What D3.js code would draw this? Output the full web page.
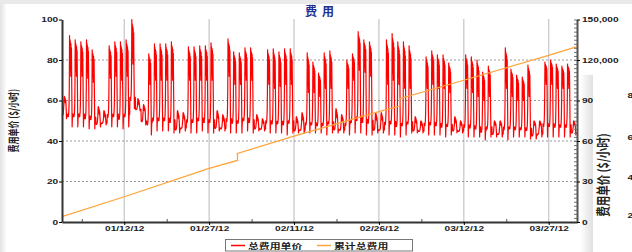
<!DOCTYPE html>
<html>
<head>
<meta charset="utf-8">
<script src="https://cdn.jsdelivr.net/npm/d3@7"></script>
<style>
  html, body { margin: 0; padding: 0; background: #e9e9e9; overflow: hidden; }
  svg { display: block; }
</style>
</head>
<body>
<div id="chart"></div>
<script>
// ---- data ----
const seriesNames = ["总费用单价", "累计总费用"];
const chartTitle = "费用";
const yLabel = "费用单价 ($/小时)";

// one entry per day, Jan 1 .. Mar 31 2012
const dayHigh = [62,
  92, 90, 89, 90, 85, 57, 55,
  87, 89, 89, 90, 100, 61, 58,
  83, 88, 88, 88, 89, 55, 54,
  86.5, 86.5, 87, 87, 88.5, 55, 53,
  90.5, 84, 83.5, 86, 86, 53, 51,
  85, 85.5, 84, 85.5, 85.5, 52, 54,
  83.5, 79, 73.5, 83.5, 84.5, 56, 53,
  80, 83, 94, 90, 89, 54, 54,
  90, 93, 89, 89, 87, 52, 50,
  81.5, 84.5, 82.5, 82.5, 78.5, 52, 50,
  82.5, 81.5, 80, 74, 77, 50, 50,
  86, 75.5, 72.5, 71.5, 77.5, 50, 50,
  79, 80, 78, 77, 78, 50];
const dayMid = [58,
  72, 72, 72, 71, 69, 52, 51,
  71, 72, 70, 72, 78, 57, 54,
  68, 70, 70, 70, 70, 50, 50,
  70, 70, 70, 70, 70, 50, 49,
  72, 68, 68, 70, 70, 49, 48,
  68, 66, 67, 68, 68, 48, 49,
  64, 64, 62, 66, 66, 50, 49,
  66, 70, 75, 74, 72, 49, 49,
  68, 70, 68, 66, 66, 48, 47,
  66, 68, 66, 66, 64, 48, 47,
  66, 64, 62, 60, 62, 47, 47,
  66, 62, 60, 60, 62, 47, 47,
  68, 68, 66, 66, 66, 47];
const dayLow = [51,
  47, 47, 47, 46, 46, 47, 48,
  47, 47, 46, 47, 56, 55, 48,
  43, 45, 45, 45, 44, 44, 45,
  44, 44, 45, 44, 44, 45, 45,
  44, 44, 44, 45, 44, 45, 45,
  44, 44, 44, 43, 44, 44, 44,
  44, 44, 44, 43, 44, 44, 44,
  43, 44, 44, 43, 43, 44, 44,
  43, 43, 42, 43, 44, 44, 44,
  43, 43, 43, 42, 43, 44, 44,
  42, 42, 42, 40.5, 42, 42, 42,
  40.5, 42, 42, 42, 41, 41, 42,
  42, 42, 42, 42, 42, 43];

// hour-by-hour shape of a day: 0 = low, 1 = mid, 2 = high
const workdayShape = [0.25, 0.2, 0.2, 0.2, 0.25, 0.3, 0.45, 0.8, 2.0, 1.6, 1.9, 1.15,
                      1.85, 1.0, 1.8, 1.1, 1.7, 1.0, 0.5, 0, 0.15, 0.25, 0.25, 0.25];
const weekendShape = [0.3, 0.25, 0.25, 0.25, 0.3, 0.35, 0.5, 0.8, 1.0, 1.8, 2.0, 1.5,
                      1.9, 1.3, 1.7, 1.2, 1.5, 1.0, 0.6, 0, 0.2, 0.3, 0.3, 0.3];

// cumulative total cost (right axis)
const cumTimes = ["2012-01-01 00", "2012-01-12 00", "2012-01-27 00", "2012-02-01 00", "2012-02-01 00",
                  "2012-02-11 00", "2012-02-26 00", "2012-02-29 16", "2012-02-29 16", "2012-03-12 00",
                  "2012-03-27 00", "2012-04-01 00"];
const cumValues = [3900, 18700, 39800, 45600, 50800, 63700, 81700, 85900, 91300, 105000, 123500, 129900];

const xTickDates = ["2012-01-12", "2012-01-27", "2012-02-11", "2012-02-26", "2012-03-12", "2012-03-27"];
const yTicks = [0, 20, 40, 60, 80, 100];
const y2Ticks = [0, 30000, 60000, 90000, 120000, 150000];
const sideTicks = ["80", "60", "40", "20"];

// ---- layout ----
const W = 632, H = 252;
const margin = {top: 19.5, right: 55, bottom: 30, left: 62};
const sx = 1.45; // picture is stretched sideways
const numFont = "'Liberation Sans', Arial, sans-serif";
const cjkFont = "'Noto Sans CJK SC', sans-serif";

const parseHour = d3.utcParse("%Y-%m-%d %H");
const parseDay = d3.utcParse("%Y-%m-%d");
const startDate = parseDay("2012-01-01");
const endDate = parseDay("2012-04-01");

const hourly = [];
dayHigh.forEach((hi, d) => {
  const lo = dayLow[d], mid = dayMid[d];
  const date = d3.utcDay.offset(startDate, d);
  const wd = date.getUTCDay();
  const shape = (wd === 0 || wd === 6) ? weekendShape : workdayShape;
  shape.forEach((s, h) => {
    const v = s <= 1 ? lo + s * (mid - lo) : mid + (s - 1) * (hi - mid);
    hourly.push({t: d3.utcHour.offset(date, h), v: v});
  });
});
const cumData = cumTimes.map((t, i) => ({t: parseHour(t), v: cumValues[i]}));

const x = d3.scaleUtc().domain([startDate, endDate]).range([margin.left, W - margin.right]);
const y = d3.scaleLinear().domain([0, 100]).range([H - margin.bottom, margin.top]);
const y2 = d3.scaleLinear().domain([0, 150000]).range([H - margin.bottom, margin.top]);

const svg = d3.select("#chart").append("svg")
  .attr("width", W)
  .attr("height", H);

// background panels
const defs = svg.append("defs");
const edge = defs.append("linearGradient").attr("id", "edgeL").attr("x1", 0).attr("x2", 1).attr("y1", 0).attr("y2", 0);
edge.append("stop").attr("offset", 0).attr("stop-color", "#e2e2e2");
edge.append("stop").attr("offset", 1).attr("stop-color", "#ffffff");
const shade = defs.append("linearGradient").attr("id", "shade").attr("x1", 0).attr("x2", 1).attr("y1", 0).attr("y2", 0);
shade.append("stop").attr("offset", 0).attr("stop-color", "#000").attr("stop-opacity", 0);
shade.append("stop").attr("offset", 1).attr("stop-color", "#000").attr("stop-opacity", 0.12);
defs.append("filter").attr("id", "soft")
  .attr("x", "-5%").attr("y", "-5%").attr("width", "110%").attr("height", "110%")
  .append("feGaussianBlur").attr("stdDeviation", "0.45 0.3");

svg.append("rect").attr("width", W).attr("height", H).attr("fill", "#e9e9e9");
svg.append("rect").attr("x", 0).attr("y", 4).attr("width", 7).attr("height", H).attr("fill", "url(#edgeL)");
svg.append("rect").attr("x", 6).attr("y", 4).attr("width", W).attr("height", H).attr("fill", "#fff");

// grid
svg.append("g")
  .selectAll("line")
  .data([20, 40, 60, 80])
  .join("line")
  .attr("x1", margin.left).attr("x2", W - margin.right)
  .attr("y1", d => y(d)).attr("y2", d => y(d))
  .attr("stroke", "#9a9a9a")
  .attr("stroke-dasharray", "2,2");

svg.append("g")
  .selectAll("line")
  .data(xTickDates.map(parseDay))
  .join("line")
  .attr("x1", d => x(d)).attr("x2", d => x(d))
  .attr("y1", margin.top).attr("y2", H - margin.bottom)
  .attr("stroke", "#8c8c8c")
  .attr("stroke-width", 1.2)
  .attr("stroke-dasharray", "1,1");

// series
const line = d3.line()
  .x(d => x(d.t))
  .y(d => y(d.v));

svg.append("path")
  .datum(hourly)
  .attr("fill", "none")
  .attr("stroke", "#ff0000")
  .attr("stroke-width", 1.2)
  .attr("stroke-linejoin", "round")
  .attr("filter", "url(#soft)")
  .attr("d", line);

const cumLine = d3.line()
  .x(d => x(d.t))
  .y(d => y2(d.v));

svg.append("path")
  .datum(cumData)
  .attr("fill", "none")
  .attr("stroke", "#ffa43a")
  .attr("stroke-width", 1.3)
  .attr("d", cumLine);

// axes
const styleTicks = g => g.selectAll("text")
  .attr("font-family", numFont)
  .attr("font-size", 7)
  .attr("font-weight", "bold")
  .attr("fill", "#222");

let yAxis = g => g
  .attr("transform", `translate(${margin.left},0)`)
  .call(d3.axisLeft(y).tickValues(yTicks).tickSize(3).tickSizeOuter(0))
  .call(g => g.select(".domain").attr("stroke", "#333").attr("stroke-width", 2))
  .call(styleTicks)
  .call(g => g.selectAll("text").attr("x", -3.8 / sx).attr("transform", `scale(${sx},1)`));

let y2Axis = g => g
  .attr("transform", `translate(${W - margin.right},0)`)
  .call(d3.axisRight(y2).tickValues(y2Ticks).tickSize(3).tickSizeOuter(0).tickFormat(d3.format(",")))
  .call(g => g.select(".domain").attr("stroke", "#555").attr("stroke-width", 2))
  .call(styleTicks)
  .call(g => g.selectAll("text").attr("x", 5 / sx).attr("transform", `scale(${sx},1)`));

let y2Minor = g => g
  .attr("transform", `translate(${W - margin.right},0)`)
  .call(d3.axisLeft(y2).tickValues(d3.range(0, 150001, 3000)).tickSize(3).tickFormat(""))
  .call(g => g.select(".domain").remove())
  .call(g => g.selectAll("line").attr("stroke", "#777"));

let xAxis = g => g
  .attr("transform", `translate(0,${H - margin.bottom})`)
  .call(d3.axisBottom(x).tickValues(xTickDates.map(parseDay)).tickSize(3).tickSizeOuter(0)
    .tickFormat(d3.utcFormat("%m/%d/%y")))
  .call(g => g.select(".domain").attr("stroke", "#333").attr("stroke-width", 2))
  .call(styleTicks)
  .call(g => g.selectAll("text").attr("y", 4).attr("transform", `scale(${sx},1)`));

let xMinor = g => g
  .attr("transform", `translate(0,${H - margin.bottom})`)
  .call(d3.axisTop(x).tickValues(xTickDates.map(s => d3.utcHour.offset(parseDay(s), -180))).tickSize(3).tickFormat(""))
  .call(g => g.select(".domain").remove())
  .call(g => g.selectAll("line").attr("stroke", "#555"));

svg.append("g").call(y2Minor);
svg.append("g").call(xMinor);
svg.append("g").call(xAxis);
svg.append("g").call(yAxis);
svg.append("g").call(y2Axis);

// title and axis label
svg.append("text")
  .attr("x", (margin.left + W - margin.right) / 2 + 2.5)
  .attr("y", 15.5)
  .attr("text-anchor", "middle")
  .attr("font-family", cjkFont)
  .attr("font-size", 12)
  .attr("font-weight", "bold")
  .attr("letter-spacing", 5)
  .attr("fill", "#24308f")
  .text(chartTitle);

svg.append("text")
  .attr("transform", `translate(18,${(margin.top + H - margin.bottom) / 2}) scale(${sx},1) rotate(-90)`)
  .attr("text-anchor", "middle")
  .attr("font-family", cjkFont)
  .attr("font-size", 8)
  .attr("font-weight", "bold")
  .attr("fill", "#222")
  .text(yLabel);

// legend
const legendColors = ["#ff0000", "#ffa43a"];
const legendX = [231, 317];
svg.append("rect")
  .attr("x", 225.5).attr("y", 239.5)
  .attr("width", 187).attr("height", 11.5)
  .attr("fill", "#fff")
  .attr("stroke", "#777");
const legend = svg.append("g")
  .selectAll("g")
  .data(seriesNames)
  .join("g")
  .attr("transform", (d, i) => `translate(${legendX[i]},245.5)`);
legend.append("line")
  .attr("x1", 0).attr("x2", 14)
  .attr("stroke", (d, i) => legendColors[i])
  .attr("stroke-width", 1.5);
legend.append("text")
  .attr("transform", `translate(17,3) scale(${sx},1)`)
  .attr("font-family", cjkFont)
  .attr("font-size", 7.5)
  .attr("font-weight", "bold")
  .attr("fill", "#222")
  .text(d => d);

// neighbouring panel overlapping at the right edge
svg.append("rect").attr("x", 580).attr("y", 75).attr("width", 13).attr("height", H).attr("fill", "url(#shade)");
svg.append("rect").attr("x", 593).attr("y", 75).attr("width", 60).attr("height", H).attr("fill", "#fff");
svg.append("text")
  .attr("transform", `translate(608,175) scale(1.3,1) rotate(-90)`)
  .attr("text-anchor", "middle")
  .attr("font-family", cjkFont)
  .attr("font-size", 10.5)
  .attr("font-weight", "bold")
  .attr("fill", "#222")
  .text(yLabel);
svg.append("g")
  .selectAll("text")
  .data(sideTicks)
  .join("text")
  .attr("transform", (d, i) => `translate(627.5,${[95, 137, 177, 215][i] + 2.5}) scale(${sx},1)`)
  .attr("font-family", numFont)
  .attr("font-size", 7)
  .attr("font-weight", "bold")
  .attr("fill", "#222")
  .text(d => d);
</script>
</body>
</html>
